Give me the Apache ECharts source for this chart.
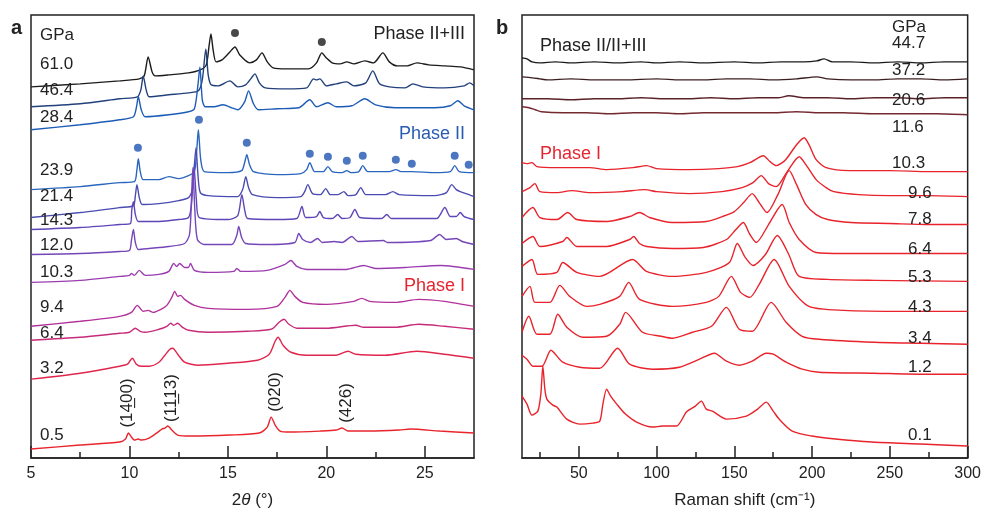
<!DOCTYPE html>
<html><head><meta charset="utf-8">
<script src="https://cdn.jsdelivr.net/npm/echarts@6/dist/echarts.min.js"></script>
<style>html,body{margin:0;padding:0;background:#fff}#c{width:984px;height:514px}</style>
</head><body><div id="c"></div>
<script>
// ---------- Panel a: XRD, x = 2θ (°), y = intensity + offset (a.u.) ----------
const xrd_61_0 = [[5.0,372],[7.5,375],[9.5,378],[10.5,380],[10.75,383],[10.95,402],[11.15,387],[11.3,383],[12.0,384],[13.0,386],[13.6,389],[13.9,394],[14.05,414],[14.14,425],[14.25,409],[14.4,397],[14.7,399],[15.1,407],[15.36,412],[15.6,404],[16.1,396],[16.45,399],[16.73,406],[17.0,397],[17.3,391],[18.0,390],[19.1,390],[19.5,396],[19.77,406],[20.0,401],[20.3,396],[20.7,395],[21.04,397],[21.4,395],[21.95,398],[22.4,396],[22.87,406],[23.2,397],[23.6,393],[24.1,393],[24.6,396],[25.2,394],[26.0,393],[26.8,392],[27.5,389]];
const xrd_46_4 = [[5.0,352],[7.5,355],[9.5,360],[10.4,362],[10.58,369],[10.7,383],[10.85,369],[11.0,362],[12.0,364],[13.0,366],[13.5,368],[13.7,379],[13.88,410],[14.0,384],[14.15,374],[14.5,373],[15.1,378],[15.5,372],[15.9,374],[16.2,381],[16.37,385],[16.6,376],[16.9,371],[18.0,370],[19.0,371],[19.35,380],[19.5,379],[19.67,380],[20.0,373],[20.5,375],[21.04,377],[21.4,373],[22.0,376],[22.36,388],[22.7,375],[23.2,372],[24.0,371],[24.4,375],[24.9,372],[26.0,371],[27.0,373],[27.28,376],[27.5,373]];
const xrd_28_4 = [[5.0,329],[7.5,334],[9.5,339],[10.2,342],[10.35,351],[10.45,362],[10.6,349],[10.8,342],[12.0,344],[13.0,347],[13.3,350],[13.48,374],[13.58,392],[13.7,359],[13.85,352],[14.3,352],[14.75,354],[15.2,351],[15.5,349],[15.85,357],[16.05,368],[16.3,355],[16.55,349],[17.5,350],[18.6,351],[19.16,359],[19.5,352],[20.08,356],[20.5,352],[21.3,353],[21.95,360],[22.5,354],[23.5,351],[25.5,351],[26.3,353],[26.68,358],[27.0,353],[27.5,349]];
const xrd_23_9 = [[5.0,269],[7.5,272],[9.5,276],[10.25,277],[10.38,289],[10.45,300],[10.55,287],[10.7,279],[11.5,279],[12.0,282],[12.5,280],[13.0,283],[13.3,287],[13.42,309],[13.5,329],[13.62,299],[13.8,287],[15.0,286],[15.7,288],[15.85,296],[15.96,304],[16.1,294],[16.3,287],[17.5,284],[18.7,285],[19.0,289],[19.16,296],[19.4,287],[19.85,287],[20.08,292],[20.3,287],[20.8,286],[21.04,288],[21.25,286],[21.65,287],[21.85,293],[22.1,287],[23.2,287],[23.53,289],[23.8,287],[24.35,287],[25.5,286],[26.3,287],[26.52,293],[26.75,287],[27.5,286]];
const xrd_21_4 = [[5.0,241],[7.5,246],[9.5,251],[10.2,253],[10.3,263],[10.38,274],[10.5,261],[10.65,254],[11.5,255],[12.5,258],[13.0,261],[13.2,269],[13.3,294],[13.38,311],[13.48,284],[13.6,266],[14.0,263],[15.5,262],[15.75,269],[15.91,282],[16.05,271],[16.25,264],[17.5,261],[18.7,262],[18.9,267],[19.06,274],[19.3,265],[19.7,264],[19.97,270],[20.2,264],[20.6,264],[20.89,267],[21.1,263],[21.5,264],[21.75,271],[22.0,264],[23.0,264],[23.38,267],[23.7,264],[25.5,263],[26.1,266],[26.37,274],[26.6,269],[26.8,267],[27.1,265],[27.5,262]];
const xrd_14_3 = [[5.0,229],[7.5,231],[9.5,234],[10.05,235],[10.12,249],[10.2,257],[10.3,244],[10.45,237],[11.5,237],[12.5,239],[13.0,241],[13.15,254],[13.28,292],[13.4,259],[13.55,241],[15.0,239],[15.5,243],[15.71,264],[15.85,249],[16.0,240],[17.5,239],[18.5,240],[18.76,252],[18.95,241],[19.5,242],[19.67,247],[19.85,241],[20.3,240],[20.58,244],[20.8,240],[21.2,241],[21.45,249],[21.7,241],[22.8,240],[23.07,244],[23.3,240],[25.6,240],[26.02,251],[26.3,242],[26.6,242],[26.8,246],[27.0,242],[27.5,239]];
const xrd_12_0 = [[5.0,204],[7.5,205],[9.5,207],[10.0,208],[10.1,218],[10.2,229],[10.3,216],[10.45,209],[11.0,210],[12.0,212],[12.8,215],[13.05,224],[13.15,259],[13.22,291],[13.32,249],[13.45,219],[13.8,214],[15.2,214],[15.45,223],[15.55,232],[15.7,221],[15.9,215],[17.0,214],[18.4,216],[18.6,225],[18.8,219],[19.2,216],[19.55,220],[19.8,216],[20.4,217],[20.8,216],[21.3,222],[21.6,217],[22.9,218],[23.1,216],[25.3,218],[25.75,224],[26.1,219],[26.6,220],[26.9,217],[27.5,214]];
const xrd_10_3 = [[5.0,176],[7.5,178],[9.5,182],[10.0,183],[10.1,185],[10.25,183],[10.5,188],[10.8,183],[11.5,184],[12.0,187],[12.25,195],[12.4,192],[12.55,195],[12.8,191],[13.0,191],[13.1,195],[13.3,188],[14.0,186],[15.3,187],[15.45,190],[15.65,187],[17.0,188],[17.9,194],[18.2,198],[18.5,192],[19.0,189],[21.0,189],[21.9,193],[22.5,190],[24.0,191],[25.8,193],[27.5,189]];
const xrd_9_4 = [[5.0,132],[7.5,137],[9.5,142],[10.1,146],[10.4,153],[10.7,147],[10.95,148],[11.2,146],[11.6,149],[11.9,153],[12.15,161],[12.3,167],[12.45,162],[12.6,163],[12.8,159],[13.3,153],[14.0,150],[16.0,149],[17.5,152],[17.9,161],[18.15,168],[18.4,162],[18.8,156],[20.0,154],[21.4,157],[21.8,160],[22.2,157],[23.5,156],[24.7,159],[26.0,157],[27.5,152]];
const xrd_6_4 = [[5.0,118],[7.5,121],[9.5,125],[10.0,126],[10.3,130],[10.55,127],[10.8,126],[11.5,129],[11.9,132],[12.1,135],[12.25,133],[12.45,135],[12.7,131],[13.0,128],[14.0,126],[16.0,127],[17.2,129],[17.6,136],[17.85,139],[18.1,134],[18.5,130],[20.0,130],[21.5,133],[21.9,131],[23.5,131],[24.7,134],[26.0,132],[27.5,129]];
const xrd_3_2 = [[5.0,79],[7.5,85],[9.5,92],[9.9,94],[10.05,98],[10.15,100],[10.35,94],[10.6,92],[11.0,92],[11.5,96],[11.8,103],[12.05,109],[12.2,110],[12.45,104],[12.8,96],[13.5,93],[15.0,95],[16.5,98],[17.1,104],[17.4,117],[17.55,121],[17.8,113],[18.2,106],[19.0,103],[20.5,103],[21.1,107],[21.5,104],[23.0,103],[24.6,107],[26.0,104],[27.5,100]];
const xrd_0_5 = [[5.0,9],[7.5,13],[9.5,16],[9.8,19],[9.95,25],[10.1,21],[10.25,18],[10.45,19],[10.6,18],[11.0,20],[11.45,26],[11.65,29],[11.8,30],[11.95,32],[12.15,28],[12.45,23],[13.1,22],[15.1,23],[16.6,25],[17.0,31],[17.2,41],[17.4,33],[17.65,27],[18.15,26],[19.7,27],[20.5,28],[20.8,30],[21.1,27],[22.2,27],[23.7,28],[24.25,29],[25.75,27],[27.5,25]];
const dotsBlackA = [[15.36,426],[19.77,417]];
const dotsBlueA = [[10.43,311],[13.53,339],[15.96,316],[19.16,305],[20.08,302],[21.04,298],[21.85,303],[23.53,299],[24.34,295],[26.52,303],[27.23,294]];
const pressuresA = ['61.0','46.4','28.4','23.9','21.4','14.3','12.0','10.3','9.4','6.4','3.2','0.5'];
const millerA = ['(14\u033200)','(11\u033213)','(020)','(426)'];
const ticksA = [5,10,15,20,25];
const minorTicksA = [7.5,12.5,17.5,22.5];

// ---------- Panel b: Raman, x = Raman shift (cm-1), y = intensity + offset (a.u.) ----------
const ram_44_7 = [[13.5,401],[16.7,400],[20,397],[25,396],[35,397],[45,396],[60,397],[75,396],[90,397],[100,396],[115,397],[130,396],[150,397],[165,396],[180,397],[195,397],[203,398],[207.7,400],[213,397],[225,397],[240,396],[255,397],[270,396],[285,397],[300,397]];
const ram_37_2 = [[13.5,382],[20,381],[25,380],[30,379],[45,380],[60,379],[80,379],[100,380],[115,379],[130,379],[145,380],[160,380],[175,379],[190,380],[203,382],[210,380],[225,379],[240,379],[255,380],[270,380],[285,379],[300,380]];
const ram_20_6 = [[13.5,360],[30,360],[45,359],[60,360],[75,360],[90,361],[105,360],[120,360],[135,361],[150,360],[165,361],[178,361],[185,363],[195,361],[210,361],[225,360],[240,361],[255,361],[270,360],[285,361],[300,361]];
const ram_11_6 = [[13.5,352],[18,351],[22,349],[26,347],[40,346],[55,346],[70,345],[85,346],[100,346],[115,345],[130,346],[145,346],[160,346],[175,346],[190,347],[205,346],[220,346],[240,345],[260,345],[280,345],[300,344]];
const ram_10_3 = [[13.5,296],[16.7,295],[20,296],[23.1,292],[36,291],[57,291],[68,289],[85,291],[93.6,293],[100,290],[121,289],[140,290],[152,292],[160,296],[168.6,303],[173,297],[177,293],[183,299],[190,314],[194.9,321],[198,314],[202.6,299],[209,291],[224,288],[250,288],[275,287],[300,287]];
const ram_9_6 = [[13.5,267],[18.6,271],[21.8,275],[25,267],[36,266],[45.5,268],[57,266],[78,267],[92.3,269],[100,267],[121,265],[142,267],[155,271],[162,276],[167.3,283],[172,275],[176.9,272],[184,287],[191.7,302],[196,294],[202.6,279],[209,271],[214,267],[230,264],[250,263],[275,263],[300,262]];
const ram_7_8 = [[13.5,241],[20.5,251],[25,241],[36,239],[42.9,246],[48.7,239],[68,237],[82.7,242],[89.1,246],[95.5,241],[110,236],[132,237],[142.3,242],[150,247],[156,256],[161.5,265],[166,256],[171,246],[178,264],[185.3,288],[190,274],[196,254],[202.6,244],[210,239],[225,236],[250,235],[275,234],[300,234]];
const ram_6_4 = [[13.5,215],[20.5,222],[25,212],[39.7,217],[42.3,221],[48.7,212],[67.9,212],[82.7,219],[85.3,222],[89,215],[93.6,212],[110,210],[130,211],[145,219],[151,229],[155.8,236],[160,224],[164.1,216],[172,234],[180.8,254],[185.3,236],[191.7,219],[202.6,206],[220,205],[250,205],[300,205]];
const ram_5_3 = [[13.5,192],[19.9,199],[23.7,184],[35.9,186],[39.7,196],[48.7,186],[63.5,182],[84.6,199],[93.6,187],[110.3,182],[132,186],[146.8,196],[151.9,215],[157,201],[162,193],[170,204],[177.6,223],[185,204],[191.7,182],[210,179],[240,178],[300,177]];
const ram_4_3 = [[13.5,162],[18.6,172],[21.8,156],[31.4,156],[37.8,173],[44.2,162],[55.1,152],[63.5,154],[76.3,162],[82.1,176],[89.1,159],[110.3,152],[132,156],[140,162],[148.1,182],[154,166],[160,161],[166,174],[175.6,199],[185.3,172],[198,152],[220,148],[260,147],[300,147]];
const ram_3_4 = [[13.5,126],[17.9,142],[23.1,124],[31.4,124],[36.5,144],[42.3,131],[52.6,121],[67.9,122],[76.3,134],[80.1,146],[91.0,126],[103,122],[110.3,120],[123.1,126],[135.3,132],[144.9,151],[153.2,129],[161.5,127],[173.7,156],[183.3,136],[193.6,122],[204.5,119],[240,116],[270,115],[300,114]];
const ram_1_2 = [[13.5,103],[16.7,99],[20.5,92],[26.3,92],[32.1,108],[39.7,96],[50.6,91],[63.5,90],[75.0,110],[82.7,94],[97.4,89],[114.7,91],[127.6,99],[137.2,105],[144.9,97],[153.2,93],[161.5,97],[170.5,105],[175,104],[183.3,96],[193.6,89],[204.5,86],[240,85],[270,84],[300,84]];
const ram_0_1 = [[13.5,62],[16.7,54],[19.9,43],[23.7,47],[25.6,64],[26.9,92],[28.2,69],[29.5,59],[33.3,53],[35.9,51],[42.3,39],[50.6,34],[59.0,35],[63.5,37],[65.5,54],[67.9,69],[70.5,62],[74.4,54],[80,44],[87.2,36],[97.4,31],[103.8,32],[112.8,32],[119.2,46],[125,52],[128.8,57],[132,49],[135.9,47],[144.9,39],[157.7,42],[165,49],[170.5,56],[175,47],[178.8,39],[187.2,27],[200,22],[215,19],[238.5,16],[270,14],[300,12]];
const pressuresB = ['44.7','37.2','20.6','11.6','10.3','9.6','7.8','6.4','5.3','4.3','3.4','1.2','0.1'];
const ticksB = [50,100,150,200,250,300];
const minorTicksB = [25,75,125,175,225,275];

// ---------- build ----------
const FONT = '"Liberation Sans", Arial, Helvetica, sans-serif';
const INK = '#222';
const seriesA = [
  [xrd_61_0,'#1c1c1c'],[xrd_46_4,'#22407c'],[xrd_28_4,'#1d5cb6'],[xrd_23_9,'#2a66be'],
  [xrd_21_4,'#4a4cb2'],[xrd_14_3,'#5e46b8'],[xrd_12_0,'#7446b8'],[xrd_10_3,'#9b3db0'],
  [xrd_9_4,'#b2309a'],[xrd_6_4,'#c62b7a'],[xrd_3_2,'#e0264c'],[xrd_0_5,'#e8242c']];
const seriesB = [
  [ram_44_7,'#1e1a1a'],[ram_37_2,'#3c1e20'],[ram_20_6,'#5a2228'],[ram_11_6,'#74282f'],
  [ram_10_3,'#e8232b'],[ram_9_6,'#e8232b'],[ram_7_8,'#e8232b'],[ram_6_4,'#e8232b'],
  [ram_5_3,'#e8232b'],[ram_4_3,'#e8232b'],[ram_3_4,'#e8232b'],[ram_1_2,'#e8232b'],[ram_0_1,'#e8232b']];

const series = [];
seriesA.forEach(([d,c]) => series.push({type:'line', xAxisIndex:0, yAxisIndex:0, data:d, symbol:'none', smooth:0.25, lineStyle:{color:c, width:1.4}, silent:true}));
seriesB.forEach(([d,c]) => series.push({type:'line', xAxisIndex:2, yAxisIndex:1, data:d, symbol:'none', smooth:0.25, lineStyle:{color:c, width:1.4}, silent:true}));
series.push({type:'scatter', xAxisIndex:0, yAxisIndex:0, data:dotsBlackA, symbolSize:8, itemStyle:{color:'#1a1a1a'}, silent:true});
series.push({type:'scatter', xAxisIndex:0, yAxisIndex:0, data:dotsBlueA, symbolSize:8, itemStyle:{color:'#1f55b0'}, silent:true});

function mainX(gi, min, max, ticks, name){
  return {type:'value', gridIndex:gi, min:min, max:max, position:'bottom',
    axisLine:{show:true, lineStyle:{color:INK, width:1.5}},
    axisTick:{show:true, inside:true, length:12, customValues:ticks, lineStyle:{color:INK, width:1.5}},
    axisLabel:{show:true, customValues:ticks, margin:8, color:INK, fontSize:16, fontFamily:FONT},
    splitLine:{show:false},
    name:name, nameLocation:'middle', nameGap:34,
    nameTextStyle:{color:INK, fontSize:17, fontFamily:FONT, rich:{i:{fontStyle:'italic', fontSize:17, fontFamily:FONT, color:INK}}}};
}
function minorX(gi, min, max, ticks){
  return {type:'value', gridIndex:gi, min:min, max:max, position:'bottom',
    axisLine:{show:false},
    axisTick:{show:true, inside:true, length:6, customValues:ticks, lineStyle:{color:INK, width:1.5}},
    axisLabel:{show:false}, splitLine:{show:false}};
}
function txt(x, y, s, opt){
  opt = opt || {};
  return {type:'text', x:x, y:y, rotation:opt.rot||0, silent:true, z:100,
    style:{text:s, fill:opt.color||INK, font:(opt.weight||'normal')+' '+(opt.size||17)+'px '+FONT,
      align:opt.align||'left', textAlign:opt.align||'left', verticalAlign:'middle', textVerticalAlign:'middle'}};
}
const graphics = [];
graphics.push(txt(11, 28, 'a', {weight:'bold', size:20}));
graphics.push(txt(496, 28, 'b', {weight:'bold', size:20}));
graphics.push(txt(40, 35, 'GPa'));
const labelYA = [64, 90, 117, 170, 196, 220, 245, 272, 307, 333, 368, 435];
pressuresA.forEach((p,i) => graphics.push(txt(40, labelYA[i], p)));
graphics.push(txt(465, 34, 'Phase II+III', {align:'right', size:18}));
graphics.push(txt(465, 134, 'Phase II', {align:'right', size:18, color:'#2a5cb4'}));
graphics.push(txt(465, 286, 'Phase I', {align:'right', size:18, color:'#e52630'}));
const millerPos = [[127,403],[171,398],[275,392],[346,403]];
millerA.forEach((m,i) => graphics.push(txt(millerPos[i][0], millerPos[i][1], m, {rot:Math.PI/2, align:'center', size:17})));
graphics.push(txt(892, 27, 'GPa'));
const labelPosB = [[892,43],[892,70],[892,100],[892,127],[892,163],[908,193],[908,219],[908,249],[908,277],[908,307],[908,338],[908,367],[908,435]];
pressuresB.forEach((p,i) => graphics.push(txt(labelPosB[i][0], labelPosB[i][1], p)));
graphics.push(txt(540, 46, 'Phase II/II+III', {size:18}));
graphics.push(txt(540, 154, 'Phase I', {size:18, color:'#e52630'}));

const chart = echarts.init(document.getElementById('c'), null, {renderer:'canvas'});
chart.setOption({
  animation:false,
  backgroundColor:'#fff',
  grid:[
    {left:31, top:15, width:443, height:444, show:true, borderColor:INK, borderWidth:1.5, backgroundColor:'transparent'},
    {left:522, top:15, width:447, height:444, show:true, borderColor:INK, borderWidth:1.5, backgroundColor:'transparent'}
  ],
  xAxis:[
    mainX(0, 5, 27.5, ticksA, '2{i|\u03B8} (\u00B0)'),
    minorX(0, 5, 27.5, minorTicksA),
    mainX(1, 13.5, 300, ticksB, 'Raman shift (cm\u207B\u00B9)'),
    minorX(1, 13.5, 300, minorTicksB)
  ],
  yAxis:[
    {type:'value', gridIndex:0, min:0, max:444, show:false, splitLine:{show:false}},
    {type:'value', gridIndex:1, min:0, max:444, show:false, splitLine:{show:false}}
  ],
  series:series,
  graphic:graphics
});
</script></body></html>
